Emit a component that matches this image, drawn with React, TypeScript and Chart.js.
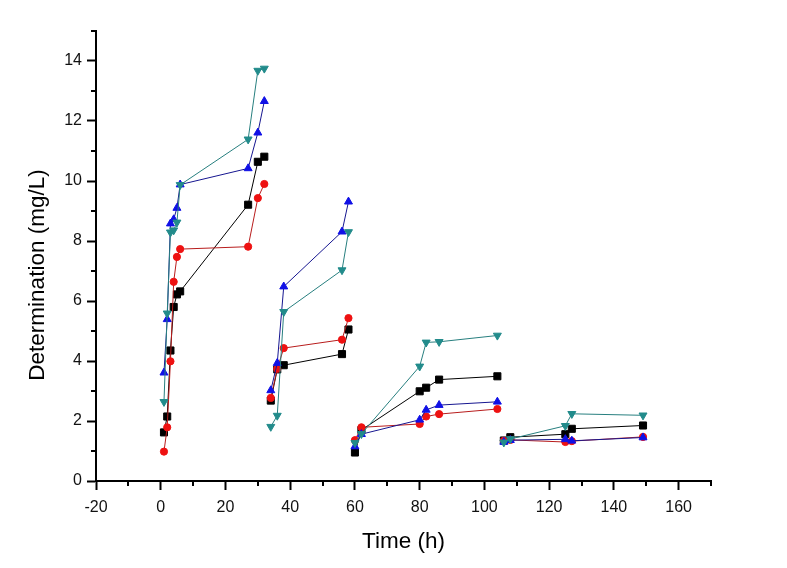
import React, { useEffect, useRef } from "react";
import { Chart, registerables } from "chart.js";

Chart.register(...registerables);

// Sampling times (h); segments break before the listed indexes
const times = [
  1, 2, 3, 4, 5, 6, 27, 30, 32,
  34, 36, 38, 56, 58,
  60, 62, 80, 82, 86, 104,
  106, 108, 125, 127, 149,
];
const breakBefore = [9, 14, 20];

const blackSeries = [
  1.62, 2.15, 4.35, 5.8, 6.22, 6.32, 9.21, 10.64, 10.81,
  2.68, 3.72, 3.86, 4.23, 5.05,
  0.95, 1.7, 2.99, 3.11, 3.38, 3.49,
  1.35, 1.46, 1.56, 1.74, 1.85,
];
const redSeries = [
  0.98, 1.79, 3.99, 6.64, 7.47, 7.73, 7.81, 9.43, 9.9,
  2.77, 3.74, 4.43, 4.71, 5.43,
  1.36, 1.79, 1.9, 2.15, 2.23, 2.4,
  1.34, 1.37, 1.3, 1.33, 1.47,
];
const blueSeries = [
  3.61, 5.39, 8.58, 8.72, 9.1, 9.88, 10.42, 11.61, 12.66,
  3.02, 3.93, 6.48, 8.31, 9.31,
  1.15, 1.56, 2.04, 2.37, 2.53, 2.64,
  1.3, 1.36, 1.39, 1.34, 1.45,
];
const tealSeries = [
  2.64, 5.59, 8.29, 8.36, 8.62, 9.87, 11.39, 13.68, 13.75,
  1.81, 2.18, 5.64, 7.03, 8.3,
  1.27, 1.57, 3.82, 4.62, 4.64, 4.85,
  1.29, 1.4, 1.84, 2.24, 2.19,
];

const xTickLabels = [-20, 0, 20, 40, 60, 80, 100, 120, 140, 160];
const yTickLabels = [0, 2, 4, 6, 8, 10, 12, 14];
const xMinorTicks = [-10, 10, 30, 50, 70, 90, 110, 130, 150, 170];
const yMinorTicks = [1, 3, 5, 7, 9, 11, 13, 15];

const xTitle = "Time (h)";
const yTitle = "Determination (mg/L)";

const FONT = "'Liberation Sans', Arial, sans-serif";

function buildPoints(values: number[]) {
  const pts: { x: number; y: number | null }[] = [];
  values.forEach((v, i) => {
    if (breakBefore.includes(i)) {
      pts.push({ x: (times[i - 1] + times[i]) / 2, y: null });
    }
    pts.push({ x: times[i], y: v });
  });
  return pts;
}

const minorTicksPlugin = {
  id: "minorTicks",
  afterDraw(chart: any) {
    const { ctx } = chart;
    const x = chart.scales.x;
    const y = chart.scales.y;
    ctx.save();
    ctx.strokeStyle = "#000";
    ctx.lineWidth = 2;
    xMinorTicks.forEach((v) => {
      const px = Math.round(x.getPixelForValue(v));
      ctx.beginPath();
      ctx.moveTo(px, x.top);
      ctx.lineTo(px, x.top + 5);
      ctx.stroke();
    });
    yMinorTicks.forEach((v) => {
      const py = Math.round(y.getPixelForValue(v));
      ctx.beginPath();
      ctx.moveTo(y.right, py);
      ctx.lineTo(y.right - 5, py);
      ctx.stroke();
    });
    // y axis title (placed slightly below the axis centre, as in the reference)
    ctx.fillStyle = "#000";
    ctx.font = `22.5px ${FONT}`;
    ctx.textAlign = "center";
    ctx.textBaseline = "middle";
    ctx.translate(38, 275);
    ctx.rotate(-Math.PI / 2);
    ctx.fillText(yTitle, 0, 0);
    ctx.restore();
  },
};

export default function App() {
  const canvasRef = useRef<HTMLCanvasElement | null>(null);

  useEffect(() => {
    if (!canvasRef.current) return;
    const mk = (
      label: string,
      values: number[],
      line: string,
      fill: string,
      style: string,
      radius: number,
      rotation: number,
      order: number
    ) => ({
      label,
      data: buildPoints(values),
      borderColor: line,
      borderWidth: 1,
      pointBackgroundColor: fill,
      pointBorderColor: fill,
      pointBorderWidth: 1,
      pointStyle: style,
      pointRadius: radius,
      pointRotation: rotation,
      spanGaps: false,
      tension: 0,
      order,
    });

    const chart = new Chart(canvasRef.current, {
      type: "line",
      data: {
        datasets: [
          mk("Series 1", blackSeries, "#000000", "#000000", "rect", 5, 0, 3),
          mk("Series 2", redSeries, "#b81c1c", "#ee1111", "circle", 3.6, 0, 2),
          mk("Series 3", blueSeries, "#161690", "#1010e6", "triangle", 4.6, 0, 1),
          mk("Series 4", tealSeries, "#277f7f", "#228b8b", "triangle", 4.6, 180, 0),
        ] as any,
      },
      options: {
        animation: false,
        responsive: false,
        devicePixelRatio: 1,
        layout: { padding: { left: 0, top: 31, right: 76, bottom: 0 } },
        plugins: {
          legend: { display: false },
          tooltip: { enabled: false },
        },
        scales: {
          x: {
            type: "linear",
            min: -20,
            max: 170,
            afterBuildTicks: (scale: any) => {
              scale.ticks = xTickLabels.map((v) => ({ value: v }));
            },
            afterFit: (scale: any) => {
              scale.height = 87;
            },
            border: { display: true, color: "#000", width: 2 },
            grid: {
              display: true,
              drawOnChartArea: false,
              drawTicks: true,
              tickLength: 9,
              tickWidth: 2,
              tickColor: "#000",
            },
            ticks: {
              color: "#111",
              padding: 8,
              maxRotation: 0,
              autoSkip: false,
              font: { family: FONT, size: 16 },
            },
            title: {
              display: true,
              text: xTitle,
              color: "#000",
              font: { family: FONT, size: 22.5 },
              padding: { top: 0, bottom: 13 },
            },
          },
          y: {
            type: "linear",
            min: 0,
            max: 15,
            afterBuildTicks: (scale: any) => {
              scale.ticks = yTickLabels.map((v) => ({ value: v }));
            },
            afterFit: (scale: any) => {
              scale.width = 96;
            },
            border: { display: true, color: "#000", width: 2 },
            grid: {
              display: true,
              drawOnChartArea: false,
              drawTicks: true,
              tickLength: 9,
              tickWidth: 2,
              tickColor: "#000",
            },
            ticks: {
              color: "#111",
              padding: 5,
              autoSkip: false,
              font: { family: FONT, size: 16 },
            },
            title: { display: false },
          },
        },
      } as any,
      plugins: [minorTicksPlugin],
    });
    return () => chart.destroy();
  }, []);

  return (
    <div
      style={{
        position: "absolute",
        left: 0,
        top: 0,
        width: 787,
        height: 568,
        background: "#fff",
      }}
    >
      <canvas
        ref={canvasRef}
        width={787}
        height={568}
        style={{ display: "block", width: 787, height: 568 }}
      />
    </div>
  );
}
